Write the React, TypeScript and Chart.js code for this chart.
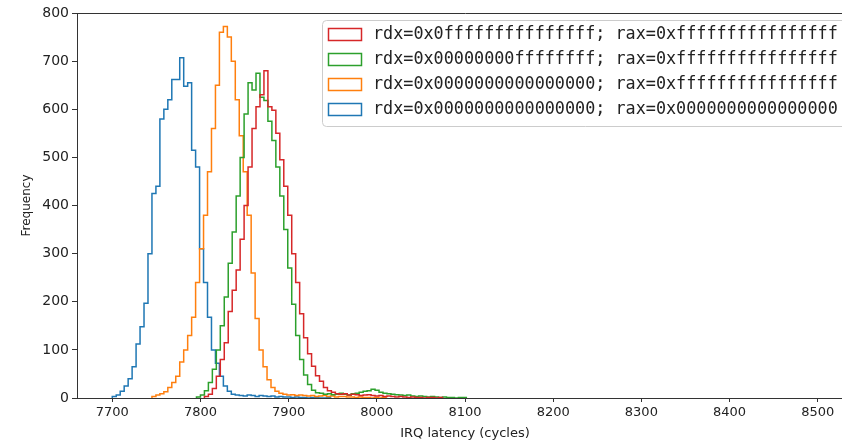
import { useEffect, useRef } from "react";
import { Chart, registerables } from "chart.js";

Chart.register(...registerables);

// ---- data ----
const BIN_WIDTH = 4.5;

const LABELS = [
  "rdx=0x0fffffffffffffff; rax=0xffffffffffffffff",
  "rdx=0x00000000ffffffff; rax=0xffffffffffffffff",
  "rdx=0x0000000000000000; rax=0xffffffffffffffff",
  "rdx=0x0000000000000000; rax=0x0000000000000000",
];
const COLORS = ["#d62728", "#2ca02c", "#ff7f0e", "#1f77b4"];

const RED_START = 7804.5;
const RED_COUNTS = [
  3, 8, 20, 45, 80, 115, 180, 224, 266, 330, 400, 480, 560, 605, 630, 680, 605, 598, 550, 495,
  440, 380, 300, 240, 175, 125, 92, 66, 46, 35, 22, 15, 12, 9, 8, 9, 6, 8, 7, 5,
  6, 7, 5, 4, 5, 3, 4, 3, 2, 3, 2, 1, 2, 1, 1, 0, 1, 1, 0, 1,
];

const GREEN_START = 7795.5;
const GREEN_COUNTS = [
  2, 6, 15, 32, 60, 100, 150, 210, 280, 345, 420, 500, 590, 655, 640, 675, 625, 618, 575, 535,
  480, 420, 350, 270, 195, 130, 80, 48, 28, 16, 11, 10, 8, 9, 7, 8, 10, 8, 6, 9,
  10, 12, 14, 15, 18, 16, 12, 10, 9, 8, 7, 6, 5, 6, 4, 3, 4, 3, 2, 3,
  2, 1, 2, 1, 1, 0, 1, 1,
];

const ORANGE_START = 7745;
const ORANGE_COUNTS = [
  3, 6, 9, 13, 22, 32, 45, 75, 100, 130, 168, 240, 310, 380, 470, 560, 650, 760, 772, 750,
  700, 620, 545, 470, 380, 260, 165, 100, 65, 38, 22, 14, 10, 8, 6, 7, 5, 6, 5, 4,
  5, 3, 4, 5, 3, 4, 2, 3, 3, 2, 2, 1, 2, 1, 1, 0, 1, 0, 1,
];

const BLUE_START = 7700;
const BLUE_COUNTS = [
  3, 6, 14, 25, 40, 65, 112, 148, 197, 300, 425, 440, 580, 600, 620, 662, 662, 707, 648, 655,
  515, 480, 310, 240, 168, 100, 72, 45, 25, 14, 8, 6, 5, 4, 6, 5, 3, 5, 4, 3,
  4, 2, 3, 2, 2, 1, 2, 1, 1, 0, 1, 1, 0, 0, 1,
];

const SERIES_STARTS = [RED_START, GREEN_START, ORANGE_START, BLUE_START];
const SERIES_COUNTS = [RED_COUNTS, GREEN_COUNTS, ORANGE_COUNTS, BLUE_COUNTS];

const X_TICKS = [7700, 7800, 7900, 8000, 8100, 8200, 8300, 8400, 8500];
const Y_TICKS = [0, 100, 200, 300, 400, 500, 600, 700, 800];
const X_MIN = 7660;
const X_MAX = 8540;
const Y_MIN = 0;
const Y_MAX = 800;

const X_TITLE = "IRQ latency (cycles)";
const Y_TITLE = "Frequency";

// ---- helpers ----
function histPoints(start: number, counts: number[]) {
  const pts: { x: number; y: number }[] = [{ x: start, y: 0 }];
  counts.forEach((c, i) => pts.push({ x: start + i * BIN_WIDTH, y: c }));
  pts.push({ x: start + counts.length * BIN_WIDTH, y: 0 });
  return pts;
}

const AXIS_COLOR = "#333333";
const TEXT_COLOR = "#222222";

const spinesPlugin = {
  id: "mplSpines",
  afterDatasetsDraw(chart: any) {
    const { ctx, chartArea } = chart;
    const l = Math.round(chartArea.left) + 0.5;
    const r = Math.round(chartArea.right) + 0.5;
    const t = Math.round(chartArea.top) + 0.5;
    const b = Math.round(chartArea.bottom) + 0.5;
    ctx.save();
    ctx.strokeStyle = AXIS_COLOR;
    ctx.lineWidth = 1;
    ctx.beginPath();
    ctx.moveTo(l, b);
    ctx.lineTo(l, t);
    ctx.lineTo(r, t);
    ctx.lineTo(r, b);
    ctx.lineTo(l, b);
    ctx.stroke();
    ctx.restore();
  },
};

const legendPlugin = {
  id: "mplLegend",
  afterDraw(chart: any) {
    const { ctx, chartArea } = chart;
    const bx = 322.5;
    const by = chartArea.top + 7.5;
    const bw = chartArea.right - 5 - bx;
    const bh = 106;
    const rad = 4;
    ctx.save();
    ctx.beginPath();
    ctx.moveTo(bx + rad, by);
    ctx.lineTo(bx + bw - rad, by);
    ctx.quadraticCurveTo(bx + bw, by, bx + bw, by + rad);
    ctx.lineTo(bx + bw, by + bh - rad);
    ctx.quadraticCurveTo(bx + bw, by + bh, bx + bw - rad, by + bh);
    ctx.lineTo(bx + rad, by + bh);
    ctx.quadraticCurveTo(bx, by + bh, bx, by + bh - rad);
    ctx.lineTo(bx, by + rad);
    ctx.quadraticCurveTo(bx, by, bx + rad, by);
    ctx.closePath();
    ctx.fillStyle = "rgba(255,255,255,0.8)";
    ctx.fill();
    ctx.strokeStyle = "#cccccc";
    ctx.lineWidth = 1;
    ctx.stroke();

    const datasets = chart.data.datasets;
    datasets.forEach((ds: any, i: number) => {
      const cy = by + 13 + i * 25;
      ctx.strokeStyle = ds.borderColor;
      ctx.lineWidth = 1.5;
      ctx.strokeRect(328.5, Math.round(cy - 6) + 0.5, 33, 12);
      ctx.fillStyle = TEXT_COLOR;
      ctx.font = '16.8px "DejaVu Sans Mono"';
      ctx.textBaseline = "middle";
      ctx.textAlign = "left";
      ctx.fillText(ds.label, 373, cy + 1);
    });
    ctx.restore();
  },
};

export default function App() {
  const canvasRef = useRef<HTMLCanvasElement | null>(null);

  useEffect(() => {
    const canvas = canvasRef.current;
    if (!canvas) return;
    const chart = new Chart(canvas, {
      type: "line",
      data: {
        datasets: LABELS.map((label, i) => ({
          label,
          data: histPoints(SERIES_STARTS[i], SERIES_COUNTS[i]),
          borderColor: COLORS[i],
          backgroundColor: "transparent",
          borderWidth: 1.5,
          stepped: true,
          pointRadius: 0,
          fill: false,
          tension: 0,
        })),
      },
      options: {
        animation: false,
        responsive: false,
        devicePixelRatio: 1,
        events: [],
        layout: { padding: { left: 0, top: 13, right: 9, bottom: 0 } },
        plugins: {
          legend: { display: false },
          tooltip: { enabled: false },
        },
        scales: {
          x: {
            type: "linear",
            min: X_MIN,
            max: X_MAX,
            afterBuildTicks: (s: any) => {
              s.ticks = X_TICKS.map((v) => ({ value: v }));
            },
            afterFit: (s: any) => {
              s.height = 45;
            },
            ticks: {
              autoSkip: false,
              maxRotation: 0,
              padding: 3,
              color: TEXT_COLOR,
              font: { family: "DejaVu Sans", size: 13 },
              callback: (v: any) => String(v),
            },
            grid: {
              display: true,
              drawOnChartArea: false,
              drawTicks: true,
              tickLength: 4,
              color: AXIS_COLOR,
            },
            border: { display: true, color: AXIS_COLOR, width: 1 },
            title: {
              display: true,
              text: X_TITLE,
              color: TEXT_COLOR,
              font: { family: "DejaVu Sans", size: 13 },
              padding: { top: 0, bottom: 2 },
            },
          },
          y: {
            type: "linear",
            min: Y_MIN,
            max: Y_MAX,
            afterBuildTicks: (s: any) => {
              s.ticks = Y_TICKS.map((v) => ({ value: v }));
            },
            afterFit: (s: any) => {
              s.width = 77;
            },
            ticks: {
              autoSkip: false,
              padding: 3,
              color: TEXT_COLOR,
              font: { family: "DejaVu Sans", size: 14 },
              callback: (v: any) => String(v),
            },
            grid: {
              display: true,
              drawOnChartArea: false,
              drawTicks: true,
              tickLength: 5,
              color: AXIS_COLOR,
            },
            border: { display: true, color: AXIS_COLOR, width: 1 },
            title: {
              display: true,
              text: Y_TITLE,
              color: TEXT_COLOR,
              font: { family: "DejaVu Sans", size: 12 },
              padding: { top: 20, bottom: 0 },
            },
          },
        },
      },
      plugins: [spinesPlugin, legendPlugin],
    } as any);
    return () => chart.destroy();
  }, []);

  return (
    <div
      style={{
        position: "fixed",
        left: 0,
        top: 0,
        width: 842,
        height: 443,
        overflow: "hidden",
        background: "#ffffff",
      }}
    >
      <canvas ref={canvasRef} width={862} height={443} style={{ width: 862, height: 443, display: "block" }} />
    </div>
  );
}
